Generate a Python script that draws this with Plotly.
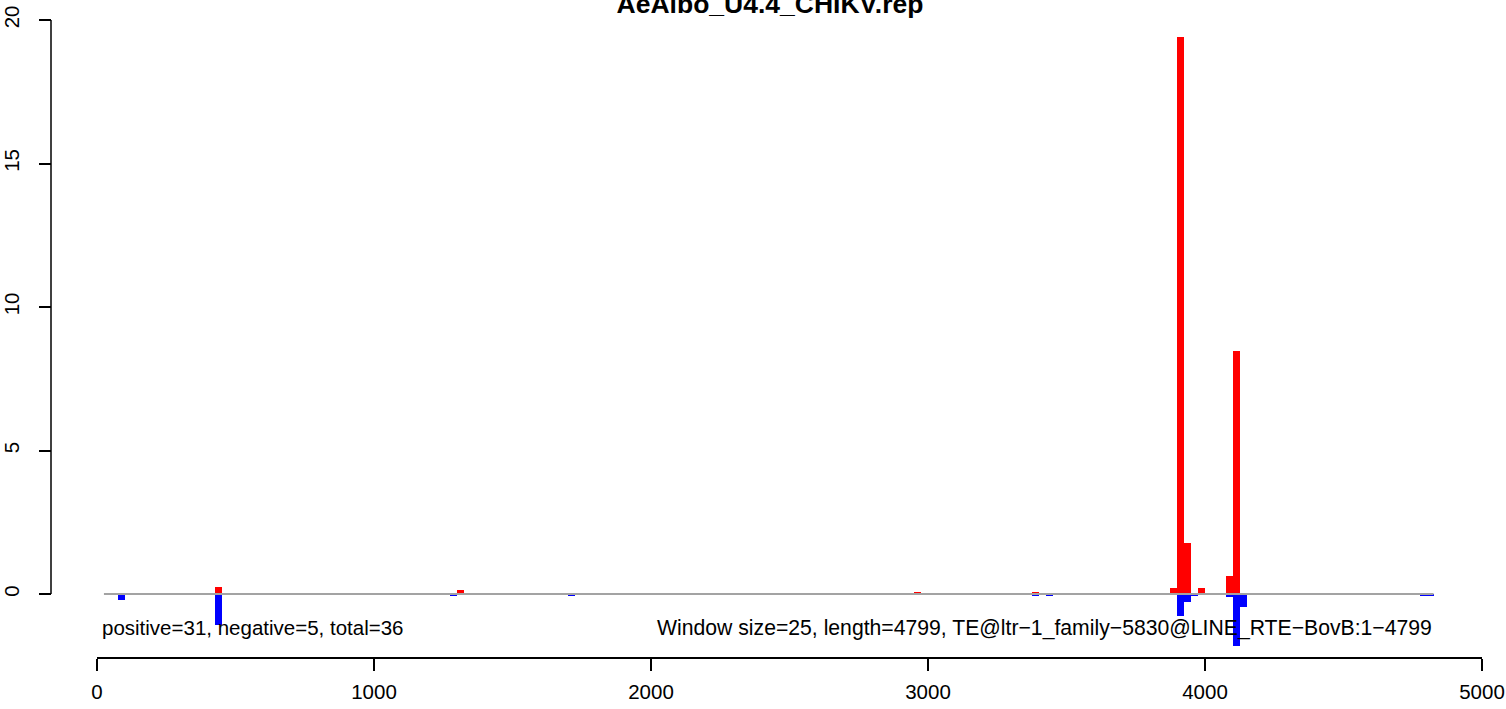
import plotly.graph_objects as go

# ---- data ----
title_text = "AeAlbo_U4.4_CHIKV.rep"
window_size = 25
pos_starts = [425, 1300, 2950, 3375, 3875, 3900, 3925, 3975, 4075, 4100]
pos_values = [0.25, 0.14, 0.07, 0.07, 0.2, 19.4, 1.78, 0.2, 0.63, 8.47]
neg_starts = [75, 425, 1275, 1700, 3375, 3425, 3900, 3925, 3950, 4075, 4100, 4125, 4775, 4800]
neg_values = [0.2, 1.08, 0.07, 0.07, 0.07, 0.07, 0.77, 0.28, 0.07, 0.1, 1.8, 0.45, 0.07, 0.07]
baseline_x = [25, 4825]
x_ticks = [0, 1000, 2000, 3000, 4000, 5000]
y_ticks = [0, 5, 10, 15, 20]
left_note = "positive=31, negative=5, total=36"
right_note = "Window size=25, length=4799, TE@ltr\u22121_family\u22125830@LINE_RTE\u2212BovB:1\u22124799"
note_y = -1.18

# ---- layout geometry ----
W, H = 1506, 709
FONT = "Liberation Sans, Arial, Helvetica, sans-serif"
x0_px, x1_px = 97, 1482          # pixel of x=0 and x=5000
y0_px, y20_px = 594, 20          # pixel of y=0 and y=20
ypx_per_unit = (y0_px - y20_px) / 20.0
y_range = [(y0_px - H) / ypx_per_unit, y0_px / ypx_per_unit]

fig = go.Figure()

fig.add_trace(go.Scatter(
    x=baseline_x, y=[0, 0], mode="lines",
    line=dict(color="#A3A3A3", width=2),
    showlegend=False, hoverinfo="skip"))

fig.add_trace(go.Bar(
    x=[s + window_size / 2 for s in pos_starts], y=pos_values,
    width=window_size, marker=dict(color="#FF0000", line=dict(width=0)),
    showlegend=False))

fig.add_trace(go.Bar(
    x=[s + window_size / 2 for s in neg_starts], y=[-v for v in neg_values],
    width=window_size, marker=dict(color="#0000FF", line=dict(width=0)),
    showlegend=False))

fig.add_annotation(x=baseline_x[0], y=note_y, xref="x", yref="y", text=left_note,
                   showarrow=False, xanchor="left", yanchor="middle", xshift=-4,
                   font=dict(family=FONT, size=20.5, color="black"))
fig.add_annotation(x=baseline_x[1], y=note_y, xref="x", yref="y", text=right_note,
                   showarrow=False, xanchor="right", yanchor="middle",
                   font=dict(family=FONT, size=21.2, color="black"))

# y axis line (only spans 0..20 like R's axis)
fig.add_shape(type="line", xref="paper", yref="y",
              x0=51 / W, x1=51 / W, y0=y_ticks[0], y1=y_ticks[-1],
              line=dict(color="black", width=1.5))

fig.update_layout(
    width=W, height=H, autosize=False,
    margin=dict(l=0, r=0, t=0, b=0, pad=0),
    paper_bgcolor="white", plot_bgcolor="white",
    barmode="overlay", bargap=0,
    font=dict(family=FONT, size=20.5, color="black"),
    title=dict(text="<b>" + title_text + "</b>", x=770 / W, xanchor="center",
               y=1 - 4 / H, yanchor="middle", yref="paper",
               font=dict(family=FONT, size=26.5, color="black")),
    xaxis=dict(domain=[x0_px / W, x1_px / W], range=[0, 5000],
               anchor="free", position=1 - 658 / H, automargin=False,
               showline=True, linecolor="black", linewidth=1.5,
               ticks="outside", ticklen=12, tickwidth=1.5, tickcolor="black",
               tickvals=x_ticks, ticktext=[str(v) for v in x_ticks],
               ticklabelstandoff=4,
               showgrid=False, zeroline=False,
               tickfont=dict(family=FONT, size=20.5, color="black")),
    yaxis=dict(domain=[0, 1], range=y_range,
               anchor="free", position=51 / W, automargin=False,
               showline=False,
               ticks="outside", ticklen=12, tickwidth=1.5, tickcolor="black",
               tickvals=y_ticks, ticktext=[str(v) for v in y_ticks],
               tickangle=-90, ticklabelstandoff=12,
               showgrid=False, zeroline=False,
               tickfont=dict(family=FONT, size=20.5, color="black")),
)

fig.write_html("out.html", config={"displayModeBar": False},
               post_script="document.body.style.margin='0px';document.body.style.overflow='hidden';")
